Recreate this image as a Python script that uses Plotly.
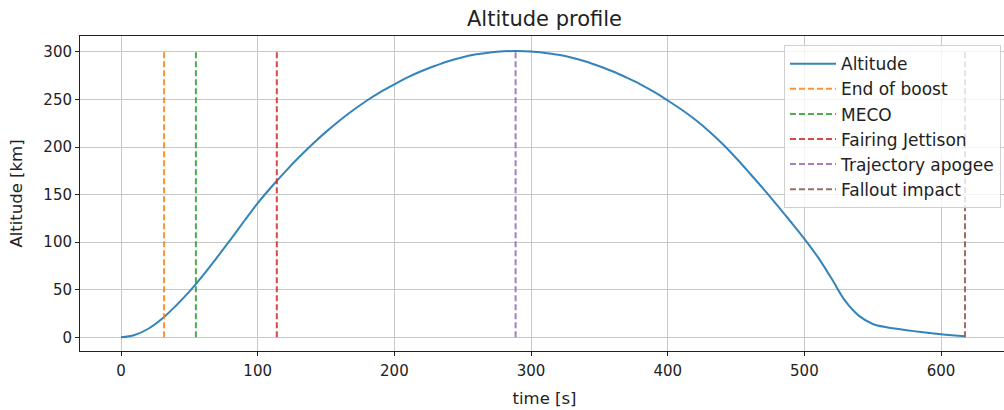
import plotly.graph_objects as go

# ---- data ----
time_s = [0, 10, 20, 30, 40, 50, 60, 70, 80, 90, 100, 110, 120, 130, 140, 150, 160, 170,
          180, 190, 200, 210, 220, 230, 240, 250, 260, 270, 280, 289, 300, 310, 320, 330,
          340, 350, 360, 370, 380, 390, 400, 410, 420, 430, 440, 450, 460, 470, 480, 490,
          500, 510, 520, 530, 540, 550, 560, 570, 580, 590, 600, 610, 617.5]
altitude_km = [0, 2.5, 9, 19.5, 33, 48, 65, 83.5, 102.5, 122, 141, 158, 174, 189, 203,
               216, 228, 239, 249, 258, 266, 273.5, 280, 285.5, 290.5, 294.5, 297.5, 299.5,
               300.7, 301, 300.5, 299, 297, 294, 290, 285, 279.5, 273, 266, 258, 249, 239.5,
               229, 217, 203.5, 188.5, 172.5, 156, 139, 121.5, 103.5, 84, 61.5, 38, 22.5,
               14, 10.5, 8.4, 6.5, 4.8, 3.2, 1.9, 1]

event_names = ["End of boost", "MECO", "Fairing Jettison", "Trajectory apogee", "Fallout impact"]
event_times = [31.5, 54.8, 114, 288.7, 617.5]
event_line_low = 0
event_line_high = 300
event_colors = ["#ff7f0e", "#2ca02c", "#d62728", "#9467bd", "#8c564b"]

x_ticks = [0, 100, 200, 300, 400, 500, 600]
y_ticks = [0, 50, 100, 150, 200, 250, 300]

FONT = "DejaVu Sans"
TXT = "#222"
W, H = 1010, 410

fig = go.Figure()
fig.add_trace(go.Scatter(
    x=time_s, y=altitude_km, mode="lines", name="Altitude",
    line=dict(color="#1f77b4", width=2, shape="spline", smoothing=1.0),
    opacity=0.9, legendgroup="a"))

for i, (name, t, c) in enumerate(zip(event_names, event_times, event_colors)):
    fig.add_trace(go.Scatter(
        x=[t, t], y=[event_line_low, event_line_high], mode="lines", name=name,
        line=dict(color=c, width=2, dash="6px,3px"), opacity=0.85,
        legendgroup="e%d" % i))

fig.update_layout(
    width=W, height=H,
    margin=dict(l=80, r=1, t=36, b=59, autoexpand=False),
    paper_bgcolor="white", plot_bgcolor="white",
    font=dict(family=FONT, size=15, color=TXT),
    title=dict(text="Altitude profile", x=544.5 / W, xanchor="center",
               xref="container", y=1 - 18.5 / H, yanchor="middle",
               font=dict(family=FONT, size=21, color=TXT)),
    showlegend=True,
    legend=dict(x=(1001 - 80) / (W - 81), y=0.971, xanchor="right", yanchor="top",
                bgcolor="rgba(255,255,255,0.8)", bordercolor="#d0d0d0", borderwidth=1,
                font=dict(family=FONT, size=17, color=TXT),
                traceorder="grouped", tracegroupgap=0, itemwidth=46),
)

fig.update_xaxes(
    range=[-30, 649.7], tickvals=x_ticks, ticks="outside", ticklen=4, tickcolor=TXT,
    showline=True, linecolor=TXT, linewidth=1, mirror=True, automargin=False,
    showgrid=True, gridcolor="#c8c8c8", gridwidth=1, zeroline=False,
    ticklabelstandoff=2,
    title=dict(text="time [s]", standoff=13, font=dict(family=FONT, size=16.5, color=TXT)),
    tickfont=dict(family=FONT, size=15, color=TXT))
fig.update_yaxes(
    range=[-14.4, 316.8], tickvals=y_ticks, ticks="outside", ticklen=4, tickcolor=TXT,
    showline=True, linecolor=TXT, linewidth=1, mirror=False, automargin=False,
    showgrid=True, gridcolor="#c8c8c8", gridwidth=1, zeroline=False,
    title=dict(text="Altitude [km]", standoff=16, font=dict(family=FONT, size=16.5, color=TXT)),
    tickfont=dict(family=FONT, size=15, color=TXT))

fig.write_html("out.html", config={"displayModeBar": False},
               post_script="document.body.style.margin='0';document.body.style.overflow='hidden';")
